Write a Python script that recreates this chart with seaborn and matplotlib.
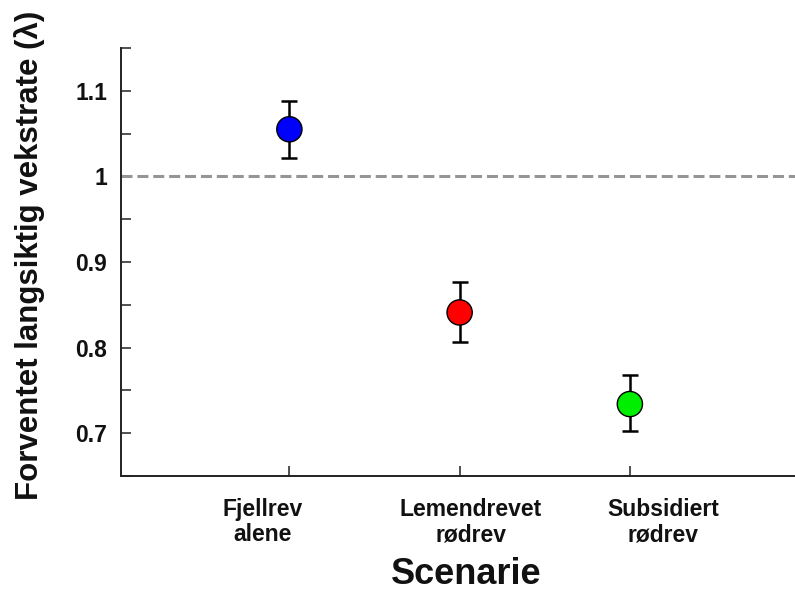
import numpy as np
import pandas as pd
import matplotlib
matplotlib.use("Agg")
import matplotlib.pyplot as plt
import matplotlib.transforms as mtransforms
from matplotlib.ticker import MultipleLocator, FixedLocator
import seaborn as sns

categories = ["Fjellrev\nalene", "Lemendrevet\nrødrev", "Subsidiert\nrødrev"]
means = [1.055, 0.841, 0.734]
upper = [1.088, 0.877, 0.768]
lower = [1.021, 0.806, 0.703]
colors = ["#0000FF", "#FF0000", "#00EE00"]
yticks = [0.7, 0.8, 0.9, 1.0, 1.1]
ytick_labels = ["0.7", "0.8", "0.9", "1", "1.1"]
reference_line = 1.0

sns.set_theme(style="ticks")
plt.rcParams["font.family"] = ["Liberation Sans", "DejaVu Sans"]

df = pd.DataFrame({"scenario": categories, "mean": means,
                   "upper": upper, "lower": lower})

fig = plt.figure(figsize=(7.95, 5.92), dpi=100)
ax = fig.add_axes([0.152, 0.196, 0.848, 0.723])

ax.axhline(reference_line, color="#959595", lw=2.2, ls=(0, (3.6, 1.6)), zorder=1)

xpos = np.arange(len(categories))
yerr = [df["mean"] - df["lower"], df["upper"] - df["mean"]]
ax.errorbar(xpos, df["mean"], yerr=yerr, fmt="none", ecolor="black",
            elinewidth=1.8, capsize=6, capthick=1.8, zorder=2)

sns.scatterplot(data=df, x="scenario", y="mean", hue="scenario",
                palette=colors, s=330, edgecolor="black", linewidth=1.0,
                legend=False, ax=ax, zorder=3)

ax.set_xlim(-0.99, 2.97)
ax.set_ylim(0.65, 1.15)
ax.yaxis.set_major_locator(FixedLocator(yticks))
ax.set_yticklabels(ytick_labels)
ax.yaxis.set_minor_locator(MultipleLocator(0.05))
ax.set_xticks(xpos)
ax.set_xticklabels(categories)

for side in ["top", "right"]:
    ax.spines[side].set_visible(False)
for side in ["left", "bottom"]:
    ax.spines[side].set_color("#222222")
    ax.spines[side].set_linewidth(1.4)

ax.tick_params(axis="y", which="both", direction="in", length=7, width=1.1,
               color="#222222", pad=10, labelsize=16.5, labelcolor="#111111")
ax.tick_params(axis="x", which="both", direction="in", length=7, width=1.1,
               color="#222222", pad=16, labelsize=16.5, labelcolor="#111111")
for lab in ax.get_yticklabels():
    lab.set_fontweight("bold")

shifts_px = [-27, 11, 33]
for lab, dx in zip(ax.get_xticklabels(), shifts_px):
    lab.set_fontweight("bold")
    lab.set_linespacing(1.12)
    lab.set_transform(lab.get_transform() +
                      mtransforms.ScaledTranslation(dx / 100, 0, fig.dpi_scale_trans))

ax.set_xlabel("Scenarie", fontsize=26, fontweight="bold", color="#111111")
ax.xaxis.set_label_coords(0.513, -0.19)
ax.set_ylabel("Forventet langsiktig vekstrate (λ)", fontsize=22.5,
              fontweight="bold", color="#111111")
ax.yaxis.set_label_coords(-0.113, 0.515)

fig.savefig("out.png", dpi=100)
